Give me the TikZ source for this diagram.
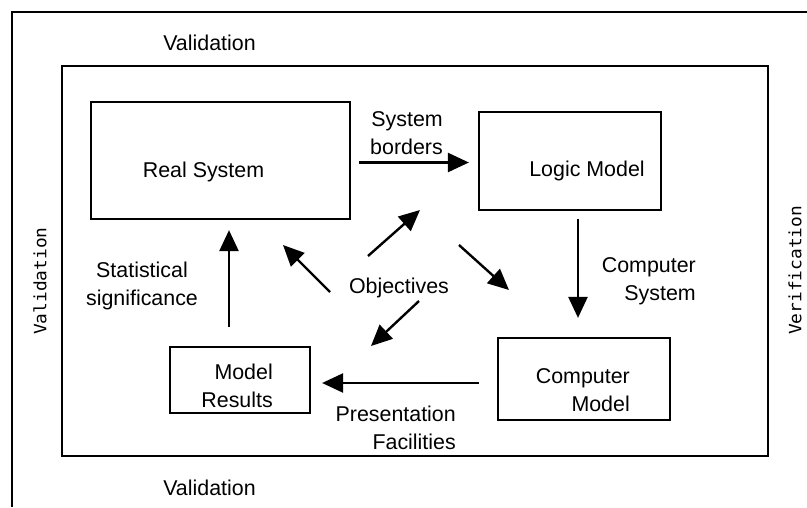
\documentclass[tikz,border=0pt]{standalone}
\usepackage{fontspec}
\setmainfont{Liberation Sans}
\newfontfamily\vfont[FakeStretch=1.05]{DejaVu Sans Mono}
\usetikzlibrary{arrows.meta}
\tikzset{
  box/.style={draw, line width=2.2pt, inner sep=0pt},
  txt/.style={font=\fontsize{21.4}{28}\selectfont, inner sep=0pt},
  vtxt/.style={font=\vfont\fontsize{17}{18}\selectfont, inner sep=0pt, rotate=90, anchor=west},
  arr/.style={line width=2.4pt, -{Triangle[length=21pt,width=19pt]}},
  frame/.style={line width=2.2pt}
}
\begin{document}
\begin{tikzpicture}[x=1pt,y=-1pt]
\useasboundingbox (0,0) rectangle (807,507);
% frames
\coordinate (fa) at (12,507);
\coordinate (fb) at (12,12);
\coordinate (fc) at (807,12);
\draw[frame] (fa) -- (fb) -- (fc);
\node[box, minimum width=706, minimum height=390] (inner) at (415,261) {};
% outer labels
\node[txt, anchor=base] (valtop) at (209.5,50) {Validation};
\node[txt, anchor=base] (valbot) at (209.5,495) {Validation};
\node[vtxt] (valleft) at (40,335) {Validation};
\node[vtxt] (verright) at (795,335) {Verification};
% boxes
\node[box, minimum width=259, minimum height=117] (real) at (220.5,160.5) {};
\node[box, minimum width=182, minimum height=98] (logic) at (570,161) {};
\node[box, minimum width=172, minimum height=82] (comp) at (584,379) {};
\node[box, minimum width=140, minimum height=66] (results) at (240,380) {};
% box texts
\node[txt, anchor=base] (realt) at (203.5,177) {Real System};
\node[txt, anchor=base] (logict) at (587,176) {Logic Model};
\node[txt, align=right, anchor=east] (compt) at (630,390) {Computer\\Model};
\node[txt, align=right, anchor=east] (resultst) at (273,386) {Model\\Results};
% connector labels
\node[txt, align=right, anchor=east] (sysb) at (443,133) {System\\borders};
\node[txt, align=right, anchor=east] (comps) at (696,281) {Computer\\System};
\node[txt, align=center] (stat) at (142,286) {Statistical\\significance};
\node[txt, align=right, anchor=east] (pres) at (456,428) {Presentation\\Facilities};
\node[txt, anchor=base] (obj) at (399,293) {Objectives};
% main connectors
\draw[arr, shorten <=8pt, shorten >=9pt] ([yshift=-2pt]real.east) -- ([yshift=-2pt]real.east -| logic.west);
\draw[arr, shorten <=8pt, shorten >=19pt] ([xshift=8pt]logic.south) -- ([xshift=8pt]logic.south |- comp.north);
\draw[arr, shorten <=18pt, shorten >=11pt] ([yshift=-4pt]comp.west) -- ([yshift=-4pt]comp.west -| results.east);
\draw[arr, shorten <=19pt, shorten >=10pt] ([xshift=-11pt]results.north) -- ([xshift=-11pt]results.north |- real.south);
% objectives arrows
\coordinate (o1a) at (368,256); \coordinate (o1b) at (420,210);
\coordinate (o2a) at (459,245); \coordinate (o2b) at (509,290);
\coordinate (o3a) at (419,301); \coordinate (o3b) at (371,346);
\coordinate (o4a) at (330,292); \coordinate (o4b) at (283,245);
\draw[arr] (o1a) -- (o1b);
\draw[arr] (o2a) -- (o2b);
\draw[arr] (o3a) -- (o3b);
\draw[arr] (o4a) -- (o4b);
\end{tikzpicture}
\end{document}
